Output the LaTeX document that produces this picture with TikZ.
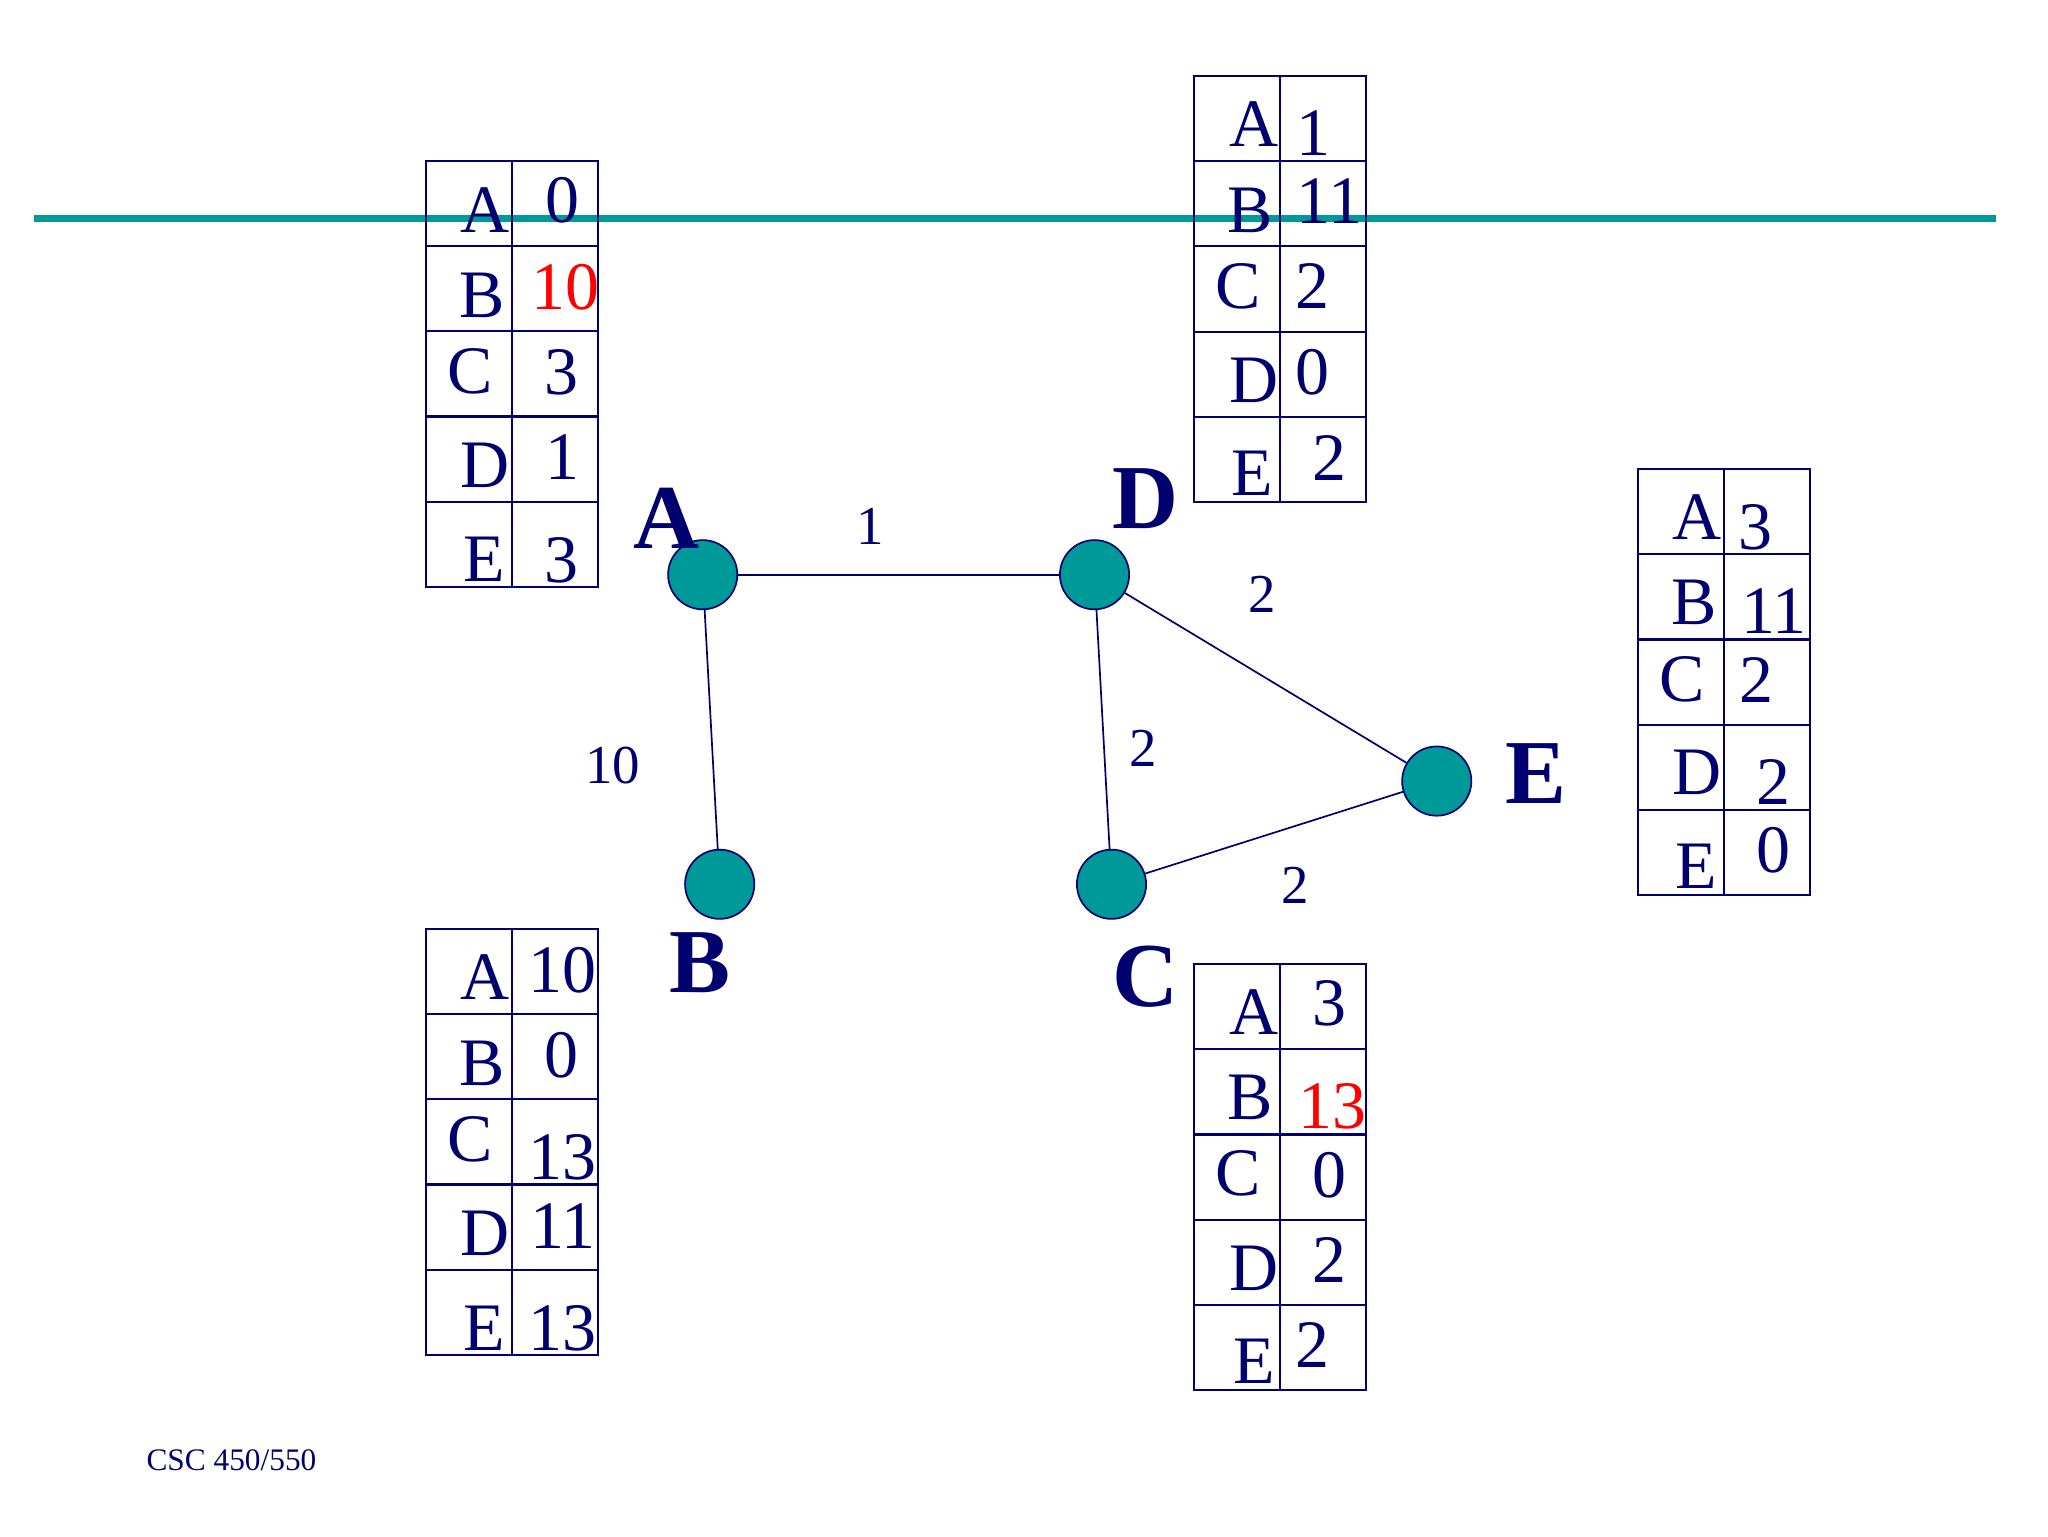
\documentclass[tikz,border=0pt]{standalone}
\usepackage{fontspec}
\setmainfont{Liberation Serif}
\definecolor{navyc}{RGB}{0,0,110}
\definecolor{tealc}{RGB}{0,153,153}
\definecolor{redc}{RGB}{255,0,0}
\newcommand\dvtable[2]{%
  \draw[gridline] (#1,#2) rectangle ++(131.5,326.5);
  \draw[gridline] ({#1+66},#2) -- ++(0,326.5);
  \foreach \k in {1,...,4} \draw[gridline] (#1,{#2+65.3*\k}) -- ++(131.5,0);
}
\begin{document}
\begin{tikzpicture}[x=1pt,y=-1pt,
  gridline/.style={draw=navyc,line width=1.6pt},
  cell/.style={inner sep=0pt,text=navyc,font=\fontsize{52}{52}\selectfont},
  hot/.style={cell,text=redc},
  vertex/.style={circle,draw=navyc,fill=tealc,line width=1.3pt,minimum size=53pt,inner sep=0pt},
  vname/.style={inner sep=0pt,text=navyc,font=\fontsize{70}{70}\selectfont\bfseries},
  wlabel/.style={inner sep=0pt,text=navyc,font=\fontsize{42}{42}\selectfont},
  edge/.style={draw=navyc,line width=1.3pt}]
\useasboundingbox (0,0) rectangle (1568,1176);
\fill[white] (0,0) rectangle (1568,1176);

% horizontal teal rule
\coordinate (ruleL) at (26,167);
\coordinate (ruleR) at (1528,167);
\draw[tealc,line width=5.5pt] (ruleL) -- (ruleR);

% tables
\dvtable{326}{123}
\dvtable{914}{58}
\dvtable{1254}{359}
\dvtable{326}{711}
\dvtable{914}{738}

% table of A
\node[cell] (tAa) at (371,161) {A};  \node[cell] (tAva) at (431,153) {0};
\node[cell] (tAb) at (369,226) {B};  \node[hot]  (tAvb) at (433,220) {10};
\node[cell] (tAc) at (360,284) {C};  \node[cell] (tAvc) at (430,285) {3};
\node[cell] (tAd) at (371,356) {D};  \node[cell] (tAvd) at (431,350) {1};
\node[cell] (tAe) at (371,428) {E};  \node[cell] (tAve) at (430,429) {3};

% table of D
\node[cell] (tDa) at (960,95)  {A};  \node[cell] (tDva) at (1006,102) {1};
\node[cell] (tDb) at (957,161) {B};  \node[cell] (tDvb) at (1018,154) {11};
\node[cell] (tDc) at (948,219) {C};  \node[cell] (tDvc) at (1005,219) {2};
\node[cell] (tDd) at (960,291) {D};  \node[cell] (tDvd) at (1005,285) {0};
\node[cell] (tDe) at (959,362) {E};  \node[cell] (tDve) at (1018,351) {2};

% table of E
\node[cell] (tEa) at (1299,396) {A}; \node[cell] (tEva) at (1344,404) {3};
\node[cell] (tEb) at (1297,461) {B}; \node[cell] (tEvb) at (1358,468) {11};
\node[cell] (tEc) at (1288,520) {C}; \node[cell] (tEvc) at (1345,521) {2};
\node[cell] (tEd) at (1299,591) {D}; \node[cell] (tEvd) at (1358,599) {2};
\node[cell] (tEe) at (1299,663) {E}; \node[cell] (tEve) at (1358,651) {0};

% table of B
\node[cell] (tBa) at (371,748)  {A}; \node[cell] (tBva) at (431,743)  {10};
\node[cell] (tBb) at (369,814)  {B}; \node[cell] (tBvb) at (430,808)  {0};
\node[cell] (tBc) at (360,872)  {C}; \node[cell] (tBvc) at (431,886)  {13};
\node[cell] (tBd) at (371,944)  {D}; \node[cell] (tBvd) at (431,939)  {11};
\node[cell] (tBe) at (371,1017) {E}; \node[cell] (tBve) at (431,1017) {13};

% table of C
\node[cell] (tCa) at (960,775)  {A}; \node[cell] (tCva) at (1018,768)  {3};
\node[cell] (tCb) at (957,840)  {B}; \node[hot]  (tCvb) at (1020,847)  {13};
\node[cell] (tCc) at (948,898)  {C}; \node[cell] (tCvc) at (1018,900)  {0};
\node[cell] (tCd) at (960,971)  {D}; \node[cell] (tCvd) at (1018,965)  {2};
\node[cell] (tCe) at (960,1042) {E}; \node[cell] (tCve) at (1005,1030) {2};

% graph
\node[vertex] (A) at (538,440) {};
\node[vertex] (D) at (838,440) {};
\node[vertex] (B) at (551,677) {};
\node[vertex] (C) at (851,677) {};
\node[vertex] (E) at (1100,598) {};
\draw[edge] (A) -- (D);
\draw[edge] (A) -- (B);
\draw[edge] (D) -- (C);
\draw[edge] (D) -- (E);
\draw[edge] (C) -- (E);

\node[vname] (lA) at (510,397) {A};
\node[vname] (lD) at (877,382) {D};
\node[vname] (lB) at (536,737) {B};
\node[vname] (lC) at (877,748) {C};
\node[vname] (lE) at (1176,592) {E};

\node[wlabel] (wAD) at (666,403) {1};
\node[wlabel] (wAB) at (469,586) {10};
\node[wlabel] (wDE) at (966,455) {2};
\node[wlabel] (wDC) at (875,573) {2};
\node[wlabel] (wCE) at (992,678) {2};

\node[anchor=base west,inner sep=0pt,text=navyc,font=\fontsize{24}{24}\selectfont] (foot) at (112,1126) {CSC 450/550};
\end{tikzpicture}
\end{document}
